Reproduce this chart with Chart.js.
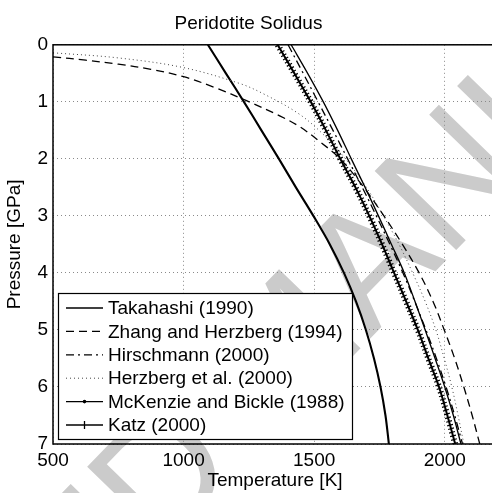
<!DOCTYPE html>
<html>
<head>
<meta charset="utf-8">
<title>Peridotite Solidus</title>
<script src="https://cdn.jsdelivr.net/npm/chart.js@4.4.1/dist/chart.umd.min.js"></script>
<style>
  html, body { margin: 0; padding: 0; background: #fff; overflow: hidden; }
  #wrap { width: 492px; height: 493px; overflow: hidden; }
</style>
</head>
<body>
<div id="wrap"><canvas id="chart" width="500" height="493"></canvas></div>
<script>
// pressures [GPa] used for the steep curves
const pressureSteps = [0, 0.5, 1, 1.5, 2, 2.5, 3, 3.5, 4, 4.5, 5, 5.5, 6, 6.5, 7];

// temperatures [K] at each pressure step
const takahashiT  = [1412, 1475, 1535, 1590, 1642, 1695, 1746, 1796, 1845, 1886, 1925, 1963, 2000, 2033, 2062];
const hirschmannT = [1400, 1458, 1515, 1572, 1628, 1684, 1738, 1790, 1840, 1885, 1928, 1968, 2005, 2038, 2068];
const mckenzieT   = [1093, 1162, 1231, 1298, 1365, 1430, 1497, 1560, 1614, 1660, 1698, 1729, 1754, 1773, 1786];
const katzT       = [1360, 1424, 1487, 1545, 1600, 1658, 1711, 1760, 1806, 1852, 1897, 1937, 1978, 2010, 2040];

// the two flatter curves start at the left edge of the axes
const zhangT = [500, 625, 750, 875, 1000, 1120, 1241, 1370, 1446, 1522, 1600, 1690, 1767, 1838, 1902, 1955, 1998, 2038, 2073, 2105, 2134];
const zhangP = [0.21, 0.27, 0.34, 0.43, 0.56, 0.75, 0.98, 1.25, 1.44, 1.70, 2.0, 2.5, 3.0, 3.5, 4.0, 4.5, 5.0, 5.5, 6.0, 6.5, 7.0];
const herzbergT = [500, 750, 1000, 1216, 1306, 1438, 1530, 1620, 1700, 1765, 1825, 1877, 1925, 1966, 1998, 2027, 2051, 2073];
const herzbergP = [0.14, 0.23, 0.40, 0.68, 0.86, 1.20, 1.55, 2.0, 2.5, 3.0, 3.5, 4.0, 4.5, 5.0, 5.5, 6.0, 6.5, 7.0];

const seriesNames = ['Takahashi (1990)', 'Zhang and Herzberg (1994)', 'Hirschmann (2000)',
                     'Herzberg et al. (2000)', 'McKenzie and Bickle (1988)', 'Katz (2000)'];

const tempTicks = [500, 1000, 1500, 2000];
const pressureTicks = [0, 1, 2, 3, 4, 5, 6, 7];

const FONT = '"Liberation Sans", Arial, Helvetica, sans-serif';
Chart.defaults.font.family = FONT;
Chart.defaults.font.size = 19;
Chart.defaults.color = '#000';

const pts = (ts, ps) => ts.map((t, i) => ({ x: t, y: ps[i] }));

const line = (label, data, extra) => Object.assign({
  label: label,
  data: data,
  showLine: true,
  borderColor: '#000',
  backgroundColor: '#000',
  borderWidth: 1.3,
  pointRadius: 0,
  pointHoverRadius: 0,
  tension: 0.35,
}, extra || {});

const datasets = [
  line(seriesNames[0], pts(takahashiT, pressureSteps)),
  line(seriesNames[1], pts(zhangT, zhangP), { borderDash: [8, 5] }),
  line(seriesNames[2], pts(hirschmannT, pressureSteps), { borderDash: [8, 4, 2, 4] }),
  line(seriesNames[3], pts(herzbergT, herzbergP), { borderDash: [1, 3], borderColor: '#444', borderWidth: 1 }),
  line(seriesNames[4], pts(mckenzieT, pressureSteps), { borderWidth: 2.1 }),
  line(seriesNames[5], pts(katzT, pressureSteps), { borderWidth: 2 }),
  // "+" marker look of the Katz curve
  line('', pts(katzT, pressureSteps), { borderWidth: 6, borderDash: [1.2, 2.6] }),
];

// faint grey "accepted manuscript" stamp behind everything
const stamp = {
  id: 'stamp',
  beforeDraw(chart) {
    const ctx = chart.ctx;
    const fs = 165;
    ctx.save();
    ctx.font = fs + 'px ' + FONT;
    ctx.fillStyle = '#cbcbcb';
    ctx.translate(366, 258);
    ctx.rotate(-0.8);
    const lead = ctx.measureText('ACCEPTED M').width + ctx.measureText('A').width / 2;
    ctx.fillText('ACCEPTED MANUSCRIPT', -lead, 0.358 * fs);
    ctx.restore();
  }
};

// axes frame, drawn solid on top of the dotted grid
const frame = {
  id: 'frame',
  afterDatasetsDraw(chart) {
    const { ctx, chartArea: a } = chart;
    ctx.save();
    ctx.strokeStyle = '#000';
    ctx.lineWidth = 1.5;
    ctx.setLineDash([]);
    ctx.strokeRect(a.left, a.top, a.right - a.left, a.bottom - a.top);
    ctx.restore();
  }
};

// boxed legend in the lower-left corner of the axes
const boxLegend = {
  id: 'boxLegend',
  afterDraw(chart) {
    const { ctx, chartArea: a } = chart;
    const w = 294, h = 146;
    const left = a.left + 5;
    const top = a.bottom - 5 - h;
    ctx.save();
    ctx.fillStyle = '#fff';
    ctx.fillRect(left, top, w, h);
    ctx.strokeStyle = '#000';
    ctx.lineWidth = 1.2;
    ctx.strokeRect(left + 0.5, top + 0.5, w, h);
    ctx.font = '19px ' + FONT;
    ctx.textBaseline = 'middle';
    seriesNames.forEach((name, i) => {
      const ds = chart.data.datasets[i];
      const y = top + 15 + i * 23.4;
      const x0 = left + 8, x1 = left + 45;
      ctx.beginPath();
      ctx.setLineDash(ds.borderDash || []);
      ctx.strokeStyle = ds.borderColor;
      ctx.lineWidth = i === 3 ? 1 : 1.3;
      ctx.moveTo(x0, y);
      ctx.lineTo(x1, y);
      ctx.stroke();
      ctx.setLineDash([]);
      const xm = (x0 + x1) / 2;
      if (i === 4) {
        ctx.beginPath();
        ctx.arc(xm, y, 1.8, 0, Math.PI * 2);
        ctx.fillStyle = '#000';
        ctx.fill();
      }
      if (i === 5) {
        ctx.beginPath();
        ctx.lineWidth = 1.3;
        ctx.moveTo(xm, y - 4);
        ctx.lineTo(xm, y + 4);
        ctx.stroke();
      }
      ctx.fillStyle = '#000';
      ctx.fillText(name, left + 50, y + 1);
    });
    ctx.restore();
  }
};

const gridOpts = { color: '#8a8a8a', lineWidth: 1, drawTicks: false };

new Chart(document.getElementById('chart').getContext('2d'), {
  type: 'scatter',
  data: { datasets: datasets },
  options: {
    responsive: false,
    animation: false,
    events: [],
    layout: { padding: { left: 0, right: 3, top: 0, bottom: 0 } },
    plugins: {
      legend: { display: false },
      tooltip: { enabled: false },
      title: {
        display: true,
        text: 'Peridotite Solidus',
        color: '#000',
        font: { size: 19, weight: 'normal' },
        padding: { top: 12, bottom: 10 },
      },
    },
    scales: {
      x: {
        type: 'linear',
        min: 500,
        max: 2200,
        afterBuildTicks: s => { s.ticks = tempTicks.map(v => ({ value: v })); },
        afterFit: s => { s.height = 49; },
        ticks: { padding: 5, callback: v => String(v), maxRotation: 0 },
        grid: gridOpts,
        border: { display: false, dash: [1, 3] },
        title: { display: true, text: 'Temperature [K]', font: { size: 19 }, padding: { top: 0, bottom: 1 } },
      },
      y: {
        type: 'linear',
        reverse: true,
        min: 0,
        max: 7,
        afterBuildTicks: s => { s.ticks = pressureTicks.map(v => ({ value: v })); },
        afterFit: s => { s.width = 53; },
        ticks: { padding: 5, callback: v => String(v) },
        grid: gridOpts,
        border: { display: false, dash: [1, 3] },
        title: { display: true, text: 'Pressure [GPa]', font: { size: 19 }, padding: { top: 3, bottom: 0 } },
      },
    },
  },
  plugins: [stamp, frame, boxLegend],
});
</script>
</body>
</html>
